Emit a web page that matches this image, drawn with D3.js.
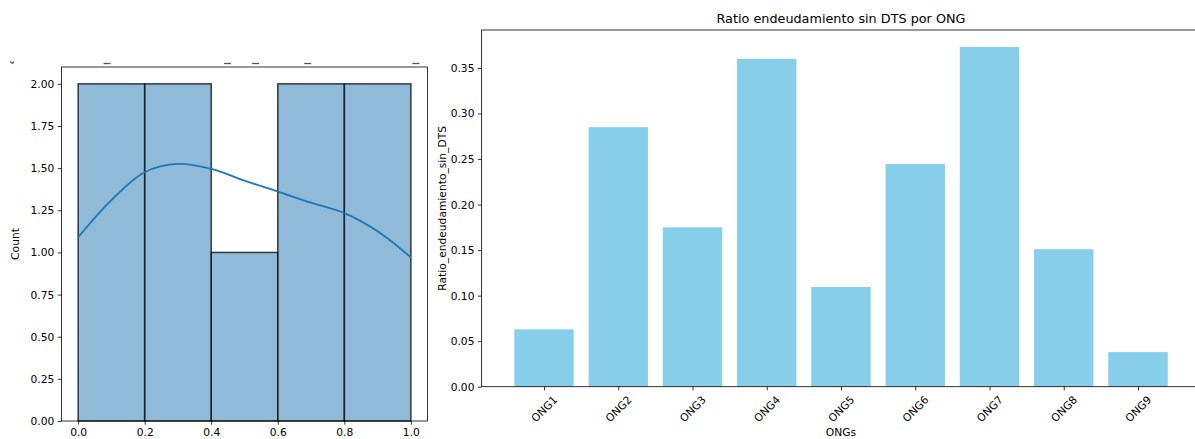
<!DOCTYPE html>
<html>
<head>
<meta charset="utf-8">
<script src="https://cdn.jsdelivr.net/npm/d3@7"></script>
<style>
  body { margin: 0; background: #fff; }
  svg { font-family: "DejaVu Sans", sans-serif; }
</style>
</head>
<body>
<div id="chart"></div>
<script>
// histogram (left panel)
var binEdges = [0.0, 0.2, 0.4, 0.6, 0.8, 1.0];
var binCounts = [2, 2, 1, 2, 2];
// kde line
var kdeX = [0.0, 0.1, 0.2, 0.3, 0.4, 0.5, 0.6, 0.7, 0.8, 0.9, 1.0];
var kdeY = [1.09, 1.31, 1.476, 1.525, 1.495, 1.426, 1.361, 1.295, 1.233, 1.125, 0.971];
var histXTicks = [0.0, 0.2, 0.4, 0.6, 0.8, 1.0];
var histYTicks = [0, 0.25, 0.5, 0.75, 1.0, 1.25, 1.5, 1.75, 2.0];
// bits of the clipped labels of the panel above
var clippedMarks = [0.087, 0.449, 0.533, 0.69, 1.015];

// bar chart (right panel)
var ongs = ["ONG1", "ONG2", "ONG3", "ONG4", "ONG5", "ONG6", "ONG7", "ONG8", "ONG9"];
var ratios = [0.063, 0.285, 0.175, 0.360, 0.1095, 0.2445, 0.373, 0.151, 0.038];
var barYTicks = [0, 0.05, 0.10, 0.15, 0.20, 0.25, 0.30, 0.35];

var W = 1195, H = 439;
var tickLen = 3.7, tickPad = 3.5, fs = 10.7;

var svg = d3.select("#chart")
    .append("svg")
    .attr("width", W)
    .attr("height", H);

function styleAxis(g) {
    g.selectAll("path.domain").remove();
    g.selectAll("line").attr("stroke", "#000").attr("stroke-width", 0.8);
    g.selectAll("text").attr("fill", "#000").attr("font-size", fs)
        .attr("font-family", "DejaVu Sans");
}

// ---------- left: histogram + kde ----------
var hL = {left: 61.5, right: 427.5, top: 67, bottom: 421};

var xHist = d3.scaleLinear()
    .domain([-0.05, 1.05])
    .range([hL.left, hL.right]);
var yHist = d3.scaleLinear()
    .domain([0, 2.1])
    .range([hL.bottom, hL.top]);

var hist = svg.append("g");

hist.selectAll("rect.bin")
    .data(binCounts)
    .enter()
    .append("rect")
    .attr("class", "bin")
    .attr("x", function (d, i) { return xHist(binEdges[i]); })
    .attr("y", function (d) { return yHist(d); })
    .attr("width", function (d, i) { return xHist(binEdges[i + 1]) - xHist(binEdges[i]); })
    .attr("height", function (d) { return yHist(0) - yHist(d); })
    .attr("fill", "#1f77b4")
    .attr("fill-opacity", 0.5)
    .attr("stroke", "#1a1a1a")
    .attr("stroke-opacity", 0.85)
    .attr("stroke-width", 1.5);

var kdeLine = d3.line()
    .x(function (d, i) { return xHist(kdeX[i]); })
    .y(function (d) { return yHist(d); })
    .curve(d3.curveCatmullRom);

hist.append("path")
    .datum(kdeY)
    .attr("d", kdeLine)
    .attr("fill", "none")
    .attr("stroke", "#1f77b4")
    .attr("stroke-width", 1.8);

// spines
hist.append("rect")
    .attr("x", hL.left).attr("y", hL.top)
    .attr("width", hL.right - hL.left).attr("height", hL.bottom - hL.top)
    .attr("fill", "none").attr("stroke", "#000").attr("stroke-width", 0.8);

hist.append("g")
    .attr("transform", "translate(0," + hL.bottom + ")")
    .call(d3.axisBottom(xHist).tickValues(histXTicks).tickFormat(d3.format(".1f"))
        .tickSize(tickLen).tickPadding(tickPad))
    .call(styleAxis);

hist.append("g")
    .attr("transform", "translate(" + hL.left + ",0)")
    .call(d3.axisLeft(yHist).tickValues(histYTicks).tickFormat(d3.format(".2f"))
        .tickSize(tickLen).tickPadding(tickPad))
    .call(styleAxis);

hist.append("text")
    .attr("transform", "rotate(-90)")
    .attr("x", -(hL.top + hL.bottom) / 2)
    .attr("y", 19)
    .attr("text-anchor", "middle")
    .attr("font-size", fs)
    .text("Count");

// leftovers of the clipped subplot above
hist.selectAll("line.clip")
    .data(clippedMarks)
    .enter()
    .append("line")
    .attr("class", "clip")
    .attr("x1", function (d) { return xHist(d) - 3.5; })
    .attr("x2", function (d) { return xHist(d) + 3.5; })
    .attr("y1", 63.5).attr("y2", 63.5)
    .attr("stroke", "#555").attr("stroke-width", 1.3);
hist.append("path")
    .attr("d", "M10,61.5 L12.5,63.5 L14,61.5")
    .attr("fill", "none").attr("stroke", "#555").attr("stroke-width", 1.2);

// ---------- right: bar chart ----------
var bL = {top: 30, bottom: 386.7};
var step = 74.25, firstCenter = 544;

var xBar = d3.scaleLinear()
    .domain([-0.84, 8.84])
    .range([firstCenter - 0.84 * step, firstCenter + 8.84 * step]);
var yBar = d3.scaleLinear()
    .domain([0, 0.3917])
    .range([bL.bottom, bL.top]);

var bars = svg.append("g");

bars.selectAll("rect.bar")
    .data(ratios)
    .enter()
    .append("rect")
    .attr("class", "bar")
    .attr("x", function (d, i) { return xBar(i - 0.4); })
    .attr("y", function (d) { return yBar(d); })
    .attr("width", xBar(0.4) - xBar(-0.4))
    .attr("height", function (d) { return yBar(0) - yBar(d); })
    .attr("fill", "#87ceeb");

bars.append("rect")
    .attr("x", xBar.range()[0]).attr("y", bL.top)
    .attr("width", xBar.range()[1] - xBar.range()[0]).attr("height", bL.bottom - bL.top)
    .attr("fill", "none").attr("stroke", "#000").attr("stroke-width", 0.8);

var xAx = bars.append("g")
    .attr("transform", "translate(0," + bL.bottom + ")")
    .call(d3.axisBottom(xBar).tickValues(d3.range(ongs.length))
        .tickFormat(function (d) { return ongs[d]; })
        .tickSize(tickLen).tickPadding(tickPad))
    .call(styleAxis);

// rotated 45 deg, centred under the tick
xAx.selectAll("text")
    .attr("y", null).attr("dy", null)
    .attr("dominant-baseline", "central")
    .attr("text-anchor", "middle")
    .attr("transform", "translate(0,22.5)rotate(-45)");

bars.append("g")
    .attr("transform", "translate(" + xBar.range()[0] + ",0)")
    .call(d3.axisLeft(yBar).tickValues(barYTicks).tickFormat(d3.format(".2f"))
        .tickSize(tickLen).tickPadding(tickPad))
    .call(styleAxis);

bars.append("text")
    .attr("x", 841)
    .attr("y", 436)
    .attr("text-anchor", "middle")
    .attr("font-size", fs)
    .text("ONGs");

bars.append("text")
    .attr("transform", "rotate(-90)")
    .attr("x", -(bL.top + bL.bottom) / 2)
    .attr("y", 446)
    .attr("text-anchor", "middle")
    .attr("font-size", fs)
    .text("Ratio_endeudamiento_sin_DTS");

bars.append("text")
    .attr("x", 841)
    .attr("y", 23)
    .attr("text-anchor", "middle")
    .attr("font-size", 12.8)
    .text("Ratio endeudamiento sin DTS por ONG");
</script>
</body>
</html>
